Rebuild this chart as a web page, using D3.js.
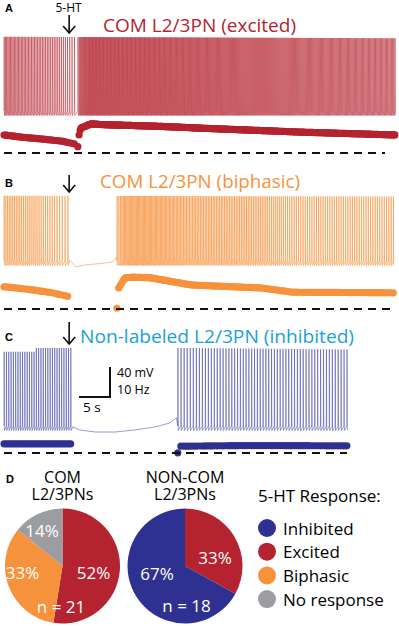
<!DOCTYPE html>
<html>
<head>
<meta charset="utf-8">
<script src="https://cdn.jsdelivr.net/npm/d3@7"></script>
<style>
  body { margin: 0; background: #fff; }
  svg { display: block; font-family: "Open Sans", sans-serif; }
</style>
</head>
<body>
<svg id="fig"></svg>
<script>
let width = 399;
let height = 626;

// ---- data ----
// firing-rate profiles [time s, Hz]; spike segments [first spike s, last s]
const rateA_pre  = [[0, 5.0], [2.6, 4.4], [5.8, 3.9], [9.0, 3.3], [11.0, 2.5], [11.4, 1.4]];
const rateA_post = [[11.9, 5.0], [12.2, 6.9], [13.9, 8.1], [15.5, 7.9], [25.1, 7.4], [31.6, 6.9], [47.7, 5.8], [63, 5.0]];
const segA = [[0, 11.4], [11.9, 63]];

const rateB_pre  = [[0, 3.7], [4.2, 3.2], [7.4, 2.7], [10.3, 2.0]];
const rateB_post = [[18.2, 3.5], [19.3, 5.2], [20.6, 5.3], [23.4, 5.2], [30, 4.0], [41.3, 3.5], [46.1, 2.8], [63, 2.7]];
const segB = [[0, 10.4], [18.2, 63]];
const silentB = [[10.6, -61], [11.6, -70], [12.2, -68.7], [13.0, -67.3], [14.7, -66], [16.3, -64.7], [17.4, -63.3], [18.1, -57]];

const rateC_pre  = [[0, 2.7], [11, 2.7]];
const rateC_post = [[28, 2.0], [39, 2.2], [55.3, 2.1]];
const segC = [[0, 11], [28, 55.3]];
const silentC = [[11.1, -63], [12.2, -67.3], [14.7, -70], [17.9, -70], [21.1, -67.3], [24.3, -63.3], [26.7, -58], [27.8, -51]];

// spike peak (mV) over time
const peakA = [[0, 37], [63, 35]];
const peakB = [[0, 25], [63, 24]];
const peakC = [[0, 37], [5.0, 37], [5.1, 42], [30, 42], [55.3, 40]];
const restMV = -62, troughMV = -68;

const titles = ["COM L2/3PN (excited)", "COM L2/3PN (biphasic)", "Non-labeled L2/3PN (inhibited)"];
const drugTime = 10.5;

const pieOrder = ["Excited", "Biphasic", "No response", "Inhibited"];
const comValues = [52, 33, 14, 0];
const noncomValues = [33, 0, 0, 67];
const comN = 21, noncomN = 18;
const legendItems = ["Inhibited", "Excited", "Biphasic", "No response"];

const COLORS = {
  'Inhibited': '#2e3192',
  'Excited': '#b4232f',
  'Biphasic': '#f7923c',
  'No response': '#9c9da0'
};

let svg = d3.select('#fig').attr('width', width).attr('height', height);

let x = d3.scaleLinear().domain([0, 63]).range([4, 395]);

function interp(points) {
  return d3.scaleLinear().domain(points.map(d => d[0])).range(points.map(d => d[1])).clamp(true);
}

function spikeTimes(profile, seg) {
  let r = interp(profile);
  let out = [];
  let t = seg[0];
  while (t <= seg[1]) { out.push(t); t += 1 / r(t); }
  return out;
}

let panels = [
  { label: 'A', color: COLORS['Excited'], titleColor: '#b4232f', base: 117, dashY: 153, pxHz: 3.6, sw: 0.6,
    rates: [rateA_pre, rateA_post], segs: segA, silent: null, peak: peakA, dashEnd: 385,
    labelY: 12, titleX: 103, titleY: 32, titleLen: 193, arrow: [15, 33] },
  { label: 'B', color: COLORS['Biphasic'], titleColor: '#f7923c', base: 267, dashY: 309, pxHz: 6, sw: 0.7,
    rates: [rateB_pre, rateB_post], segs: segB, silent: silentB, peak: peakB, dashEnd: 393,
    labelY: 187, titleX: 100, titleY: 188, titleLen: 200, arrow: [175, 192] },
  { label: 'C', color: '#3a3d9c', titleColor: '#1a9fd9', dotColor: COLORS['Inhibited'], base: 432, dashY: 453, pxHz: 3.4, sw: 0.6,
    rates: [rateC_pre, rateC_post], segs: segC, silent: silentC, peak: peakC, dashEnd: 347,
    labelY: 341, titleX: 80, titleY: 343, titleLen: 274, arrow: [322, 344] }
];

panels.forEach((p, i) => {
  let v = d3.scaleLinear().domain([-70, 40]).range([p.base, p.base - 110 * 0.75]);
  let rate = d3.scaleLinear().domain([0, 10]).range([p.dashY, p.dashY - 10 * p.pxHz]);
  let pk = interp(p.peak);

  let pre = spikeTimes(p.rates[0], p.segs[0]);
  let post = spikeTimes(p.rates[1], p.segs[1]);

  // membrane potential trace
  let pts = [];
  function addSpikes(ts) {
    ts.forEach(t => {
      pts.push([t, restMV]);
      pts.push([t + 0.025, pk(t)]);
      pts.push([t + 0.07, troughMV]);
    });
  }
  addSpikes(pre);
  if (p.silent) p.silent.forEach(d => pts.push(d));
  addSpikes(post);

  let line = d3.line().x(d => x(d[0])).y(d => v(d[1]));
  svg.append("path")
    .attr("d", line(pts))
    .attr("fill", "none")
    .attr("stroke", p.color)
    .attr("stroke-width", p.sw)
    .attr("stroke-opacity", 0.85)
    .attr("stroke-linejoin", "round");

  // instantaneous firing rate dots
  let all = pre.concat(post);
  let r0 = interp(p.rates[0]);
  svg.append("g")
    .selectAll("circle")
    .data(all)
    .enter()
    .append("circle")
      .attr("cx", d => x(d))
      .attr("cy", (d, j) => rate(j === 0 ? r0(d) : 1 / (d - all[j - 1])))
      .attr("r", 3.6)
      .attr("fill", p.dotColor || p.color);

  // zero-rate dashed line
  svg.append("line")
    .attr("x1", x(0)).attr("x2", p.dashEnd)
    .attr("y1", p.dashY).attr("y2", p.dashY)
    .attr("stroke", "#111")
    .attr("stroke-width", 2)
    .attr("stroke-dasharray", "8,6");

  // 5-HT arrow
  let ax = x(drugTime);
  svg.append("path")
    .attr("d", `M${ax},${p.arrow[0]}V${p.arrow[1]}M${ax - 6},${p.arrow[1] - 7}L${ax},${p.arrow[1]}L${ax + 6},${p.arrow[1] - 7}`)
    .attr("fill", "none")
    .attr("stroke", "#111")
    .attr("stroke-width", 1.6);

  svg.append("text")
    .attr("x", 5).attr("y", p.labelY)
    .attr("font-family", "Liberation Sans, Arial, sans-serif")
    .attr("font-weight", "bold")
    .attr("font-size", 11)
    .text(p.label);

  svg.append("text")
    .attr("x", p.titleX).attr("y", p.titleY)
    .attr("font-size", 18)
    .attr("fill", p.titleColor)
    .attr("textLength", p.titleLen)
    .attr("lengthAdjust", "spacingAndGlyphs")
    .text(titles[i]);
});

svg.append("text")
  .attr("x", 68.5).attr("y", 12)
  .attr("text-anchor", "middle")
  .attr("font-size", 12)
  .text("5-HT");

// scale bar
svg.append("path")
  .attr("d", "M110,367V397H79")
  .attr("fill", "none")
  .attr("stroke", "#111")
  .attr("stroke-width", 2);
svg.append("text").attr("x", 117).attr("y", 377).attr("font-size", 12.5).text("40 mV");
svg.append("text").attr("x", 117).attr("y", 394).attr("font-size", 12.5).text("10 Hz");
svg.append("text").attr("x", 83).attr("y", 412).attr("font-size", 13.5).text("5 s");

// ---- D: pie charts ----
svg.append("text")
  .attr("x", 6).attr("y", 483)
  .attr("font-family", "Liberation Sans, Arial, sans-serif")
  .attr("font-weight", "bold")
  .attr("font-size", 11)
  .text("D");

let pie = d3.pie().sort(null);
let arc = d3.arc().innerRadius(0).outerRadius(57.5);

function drawPie(values, cx, cy, head, labelPos, n, nPos) {
  let g = svg.append("g").attr("transform", `translate(${cx},${cy})`);
  let arcs = pie(values);
  g.selectAll("path")
    .data(arcs)
    .enter()
    .append("path")
      .attr("d", arc)
      .attr("fill", (d, i) => COLORS[pieOrder[i]]);
  arcs.forEach((d, i) => {
    if (!values[i]) return;
    g.append("text")
      .attr("x", labelPos[i][0]).attr("y", labelPos[i][1])
      .attr("text-anchor", "middle")
      .attr("font-size", 17)
      .attr("fill", "#fff")
      .text(values[i] + "%");
  });
  g.append("text")
    .attr("x", nPos[0]).attr("y", nPos[1])
    .attr("text-anchor", "middle")
    .attr("font-size", 17)
    .attr("fill", "#fff")
    .text("n = " + n);
  head.forEach((h, i) => {
    g.append("text")
      .attr("x", 0).attr("y", -83 + i * 17)
      .attr("text-anchor", "middle")
      .attr("font-size", 16)
      .text(h);
  });
}

drawPie(comValues, 62.5, 566, ["COM", "L2/3PNs"],
  [[31, 13], [-40, 13], [-20.5, -29], [0, 0]], comN, [-1.5, 47]);
drawPie(noncomValues, 185, 566, ["NON-COM", "L2/3PNs"],
  [[30, -2], [0, 0], [0, 0], [-28, 14]], noncomN, [1.5, 46]);

// legend
svg.append("text")
  .attr("x", 258).attr("y", 502)
  .attr("font-size", 17)
  .text("5-HT Response:");

let legend = svg.append("g")
  .selectAll("g")
  .data(legendItems)
  .enter()
  .append("g")
    .attr("transform", (d, i) => `translate(267,${528 + i * 23.7})`);
legend.append("circle")
  .attr("r", 9)
  .attr("fill", d => COLORS[d]);
legend.append("text")
  .attr("x", 16).attr("y", 6.5)
  .attr("font-size", 17)
  .text(d => d);
</script>
</body>
</html>
